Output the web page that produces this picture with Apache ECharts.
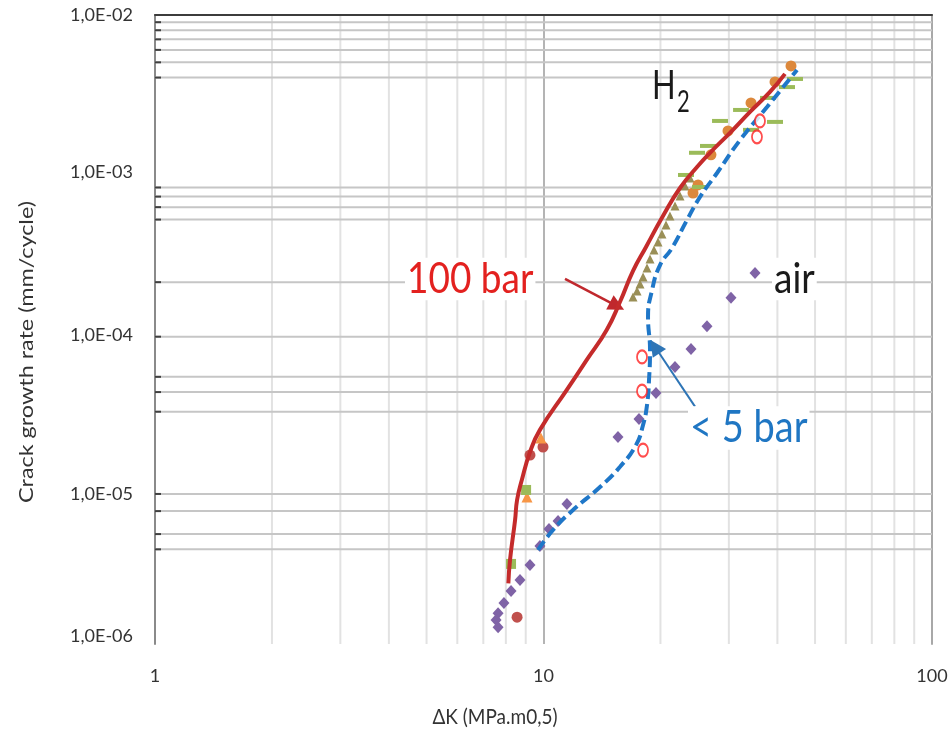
<!DOCTYPE html>
<html><head><meta charset="utf-8">
<script src="https://cdn.jsdelivr.net/npm/echarts@6/dist/echarts.min.js"></script>
<style>html,body{margin:0;padding:0;background:#fff}#c{width:951px;height:732px}</style>
</head><body><div id="c"></div>
<script>
// ---- tick / grid values ----
const xTicks = [1, 10, 100];
const yTicks = [1e-6, 1e-5, 1e-4, 1e-3, 1e-2];
const xMinorGrid = [2,3,4,5,6,7,8,9,20,30,40,50,60,70,80,90];
const yGrid = [9e-3,8e-3,7e-3,6e-3,5e-3,4e-3, 8e-4,7e-4,6e-4,5e-4,2e-4, 9e-5,5e-5,4e-5,3e-5, 9e-6,7e-6,5e-6,4e-6];

// ---- curves ----
const curve100bar = [[8.12,2.43e-6],[8.20,3.42e-6],[8.45,6.15e-6],[8.55,8.24e-6],[8.79,1.10e-5],[9.23,1.66e-5],[9.79,2.30e-5],[11.47,4.12e-5],[12.92,6.40e-5],[14.54,9.93e-5],[15.74,1.50e-4],[17.00,2.36e-4],[18.36,3.35e-4],[20.30,5.27e-4],[22.46,7.94e-4],[24.84,1.08e-3],[26.83,1.33e-3],[30.20,1.78e-3],[34.01,2.42e-3],[38.28,3.24e-3],[41.84,4.22e-3]];
const curve5bar = [[9.68,3.96e-6],[10.58,5.31e-6],[11.91,7.11e-6],[13.98,9.96e-6],[15.74,1.34e-5],[17.30,1.84e-5],[18.04,2.47e-5],[18.47,3.31e-5],[18.69,4.77e-5],[18.80,7.41e-5],[18.58,1.20e-4],[19.03,1.78e-4],[19.95,2.57e-4],[21.42,3.30e-4],[23.41,4.97e-4],[25.28,6.96e-4],[27.97,9.89e-4],[32.05,1.60e-3],[37.61,2.60e-3],[44.93,4.47e-3]];

// ---- measured points ----
const airPoints = [[35.03,2.29e-4],[30.38,1.59e-4],[26.35,1.05e-4],[23.97,7.52e-5],[21.80,5.77e-5],[19.48,3.95e-5],[17.61,2.70e-5],[15.55,2.07e-5],[11.49,7.77e-6],[10.90,6.05e-6],[10.33,5.38e-6],[9.79,4.20e-6],[9.23,3.18e-6],[8.70,2.55e-6],[8.25,2.17e-6],[7.91,1.82e-6],[7.64,1.57e-6],[7.55,1.42e-6],[7.64,1.28e-6]];
const oliveTriangles = [[17.00,1.61e-4],[17.41,1.76e-4],[17.72,1.95e-4],[18.04,2.16e-4],[18.47,2.46e-4],[18.80,2.81e-4],[19.25,3.20e-4],[19.71,3.60e-4],[20.18,4.05e-4],[20.67,4.62e-4],[21.16,5.27e-4],[21.80,6.10e-4],[22.46,7.06e-4],[23.13,8.18e-4],[23.83,9.19e-4]];
const orangeCircles = [[43.36,4.74e-3],[39.44,3.75e-3],[34.21,2.76e-3],[29.85,1.83e-3],[26.98,1.29e-3],[24.99,8.30e-4],[24.26,7.38e-4]];
const greenDashes = [[44.40,3.92e-3],[42.34,3.48e-3],[37.84,2.97e-3],[32.25,2.49e-3],[28.47,2.12e-3],[39.44,2.09e-3],[34.21,1.86e-3],[26.51,1.47e-3],[24.84,1.33e-3],[23.27,9.61e-4],[25.28,8.06e-4]];
const redCircles = [[9.23,1.59e-5],[9.97,1.79e-5],[8.55,1.48e-6]];
const orangeTriangles = [[9.85,2.04e-5],[9.07,8.61e-6]];
const greenSquares = [[9.02,9.54e-6],[8.25,3.23e-6]];
const openCircles = [[17.93,6.69e-5],[17.93,4.06e-5],[18.04,1.71e-5],[36.08,2.12e-3],[35.44,1.68e-3]];

// ---- annotation arrows (data coords) ----
const arrow100bar = [[11.36,2.10e-4],[15.46,1.41e-4]];
const arrow5bar = [[24.55,3.23e-5],[19.36,7.77e-5]];

const FONT = 'Lato';
// small vertical nudges of the y tick labels, as in the source picture
const labelStyleByExp = {'-6': 'e6', '-5': 'e5', '-4': 'e4'};
const fmtY = v => {
  const e = Math.round(Math.log10(v));
  const txt = '1,0E-' + String(-e).padStart(2, '0');
  const s = labelStyleByExp[String(e)];
  return s ? '{' + s + '|' + txt + '}' : txt;
};

const chart = echarts.init(document.getElementById('c'), null, {renderer: 'canvas'});

function scatter(data, symbol, size, color, extra) {
  return Object.assign({
    type: 'scatter', data: data, symbol: symbol, symbolSize: size,
    itemStyle: {color: color, opacity: 1}, silent: true, z: 3
  }, extra || {});
}

const labelBase = {fontFamily: FONT, fontSize: 18, color: '#333'};

const option = {
  animation: false,
  backgroundColor: '#ffffff',
  grid: {left: 155, right: 19, top: 15, bottom: 88, containLabel: false, outerBoundsMode: 'none'},
  xAxis: [
    {type: 'log', logBase: 10, min: xTicks[0], max: xTicks[xTicks.length-1], position: 'bottom',
     axisLine: {show: false}, axisTick: {show: false},
     splitLine: {show: true, lineStyle: {color: '#b4b4b4', width: 2}},
     axisLabel: {fontFamily: FONT, fontSize: 18, color: '#333', margin: 23, showMinLabel: true, showMaxLabel: true}},
    {type: 'log', logBase: 10, min: xTicks[0], max: xTicks[xTicks.length-1], position: 'top',
     axisLine: {show: true, onZero: false, lineStyle: {color: '#3c3c3c', width: 2}},
     axisTick: {show: false}, axisLabel: {show: false}, splitLine: {show: false}}
  ],
  yAxis: [
    {type: 'log', logBase: 10, min: yTicks[0], max: yTicks[yTicks.length-1], position: 'left',
     axisLine: {show: true, onZero: false, lineStyle: {color: '#8a8a8a', width: 2}},
     axisTick: {show: false}, splitLine: {show: false},
     axisLabel: {formatter: fmtY, fontFamily: FONT, fontSize: 18, color: '#333', margin: 22, showMinLabel: true, showMaxLabel: true,
       rich: {
         e6: Object.assign({padding: [0, 0, 16, 0]}, labelBase),
         e5: Object.assign({padding: [14, 0, 0, 0]}, labelBase),
         e4: Object.assign({padding: [12, 0, 0, 0]}, labelBase)
       }}},
    {type: 'log', logBase: 10, min: yTicks[0], max: yTicks[yTicks.length-1], position: 'right',
     axisLine: {show: true, onZero: false, lineStyle: {color: '#a8a8a8', width: 2}},
     axisTick: {show: false}, axisLabel: {show: false}, splitLine: {show: false}}
  ],
  series: [
    // vertical minor grid lines
    {type: 'custom', silent: true, z: 0,
     data: xMinorGrid.map(v => [v, yTicks[0]]),
     renderItem: (params, api) => {
       const v = api.value(0);
       const p1 = api.coord([v, yTicks[0]]), p2 = api.coord([v, yTicks[yTicks.length-1]]);
       return {type: 'line', shape: {x1: p1[0], y1: p1[1], x2: p2[0], y2: p2[1]},
               style: {stroke: '#e2e2e2', lineWidth: 2}};
     }},
    // horizontal grid lines + left ticks
    {type: 'custom', silent: true, z: 1,
     data: yGrid.map(v => [xTicks[0], v]),
     renderItem: (params, api) => {
       const v = api.value(1);
       const p1 = api.coord([xTicks[0], v]), p2 = api.coord([xTicks[xTicks.length-1], v]);
       return {type: 'group', children: [
         {type: 'line', shape: {x1: p1[0], y1: p1[1], x2: p2[0], y2: p2[1]}, style: {stroke: '#c6c6c6', lineWidth: 2}},
         {type: 'line', shape: {x1: p1[0], y1: p1[1], x2: p1[0] + 6, y2: p1[1]}, style: {stroke: '#404040', lineWidth: 2}}
       ]};
     }},
    scatter(oliveTriangles, 'triangle', 9, '#9a8f57'),
    scatter(orangeCircles, 'circle', 11, '#dc883c'),
    scatter(greenDashes, 'rect', [16, 4], '#9bbb59'),
    scatter(redCircles, 'circle', 11, '#c0504d'),
    scatter(orangeTriangles, 'triangle', 11, '#f79646'),
    scatter(greenSquares, 'rect', 10, '#9bbb59'),
    scatter(airPoints, 'diamond', [11, 12], '#7f63a6', {
      markLine: {
        silent: true, symbol: ['none', 'triangle'], symbolSize: 16,
        label: {show: false}, animation: false,
        data: [
          [{coord: arrow100bar[0], lineStyle: {color: '#c0282d', width: 2.5, type: 'solid'}}, {coord: arrow100bar[1]}],
          [{coord: arrow5bar[0], lineStyle: {color: '#2e75b6', width: 2, type: 'solid'}}, {coord: arrow5bar[1]}]
        ]
      }
    }),
    {type: 'line', data: curve5bar, smooth: 0.5, symbol: 'none', silent: true, z: 4,
     lineStyle: {color: '#1f77c8', width: 4, type: [11, 5]}},
    {type: 'line', data: curve100bar, smooth: 0.5, symbol: 'none', silent: true, z: 5,
     lineStyle: {color: '#c42b2b', width: 4}},
    scatter(openCircles, 'emptyCircle', [10, 13], '#ff2020', {z: 6, itemStyle: {color: '#ff2020', borderWidth: 1.5}})
  ],
  graphic: [
    {type: 'text', x: 405, y: 279, scaleY: 1.15, silent: true, z: 10,
     style: {text: '100 bar', fontFamily: FONT, fontSize: 37, fill: '#e3211f', verticalAlign: 'middle', backgroundColor: '#fff', padding: [0, 2]}},
    {type: 'text', x: 772, y: 279, scaleY: 1.15, silent: true, z: 10,
     style: {text: 'air', fontFamily: FONT, fontSize: 37, fill: '#1a1a1a', verticalAlign: 'middle', backgroundColor: '#fff', padding: [0, 2]}},
    {type: 'text', x: 688, y: 428, scaleY: 1.15, silent: true, z: 10,
     style: {text: '< 5 bar', fontFamily: FONT, fontSize: 38, fill: '#1f76c3', verticalAlign: 'middle', backgroundColor: '#fff', padding: [0, 2]}},
    {type: 'text', x: 652, y: 86, scaleY: 1.3, silent: true, z: 10,
     style: {text: 'H', fontFamily: FONT, fontSize: 31, fill: '#1a1a1a', verticalAlign: 'middle'}},
    {type: 'text', x: 677, y: 102, scaleY: 1.4, silent: true, z: 10,
     style: {text: '2', fontFamily: FONT, fontSize: 22, fill: '#1a1a1a', verticalAlign: 'middle'}},
    {type: 'text', x: 495, y: 717, scaleY: 1.15, silent: true,
     style: {text: 'ΔK (MPa.m0,5)', fontFamily: FONT, fontSize: 19, fill: '#333', align: 'center', verticalAlign: 'middle'}},
    {type: 'text', x: 27, y: 352, rotation: Math.PI / 2, scaleX: 1.17, silent: true,
     style: {text: 'Crack growth rate (mm/cycle)', fontFamily: FONT, fontSize: 20, fill: '#333', align: 'center', verticalAlign: 'middle'}}
  ]
};
chart.setOption(option);
</script>
</body></html>
